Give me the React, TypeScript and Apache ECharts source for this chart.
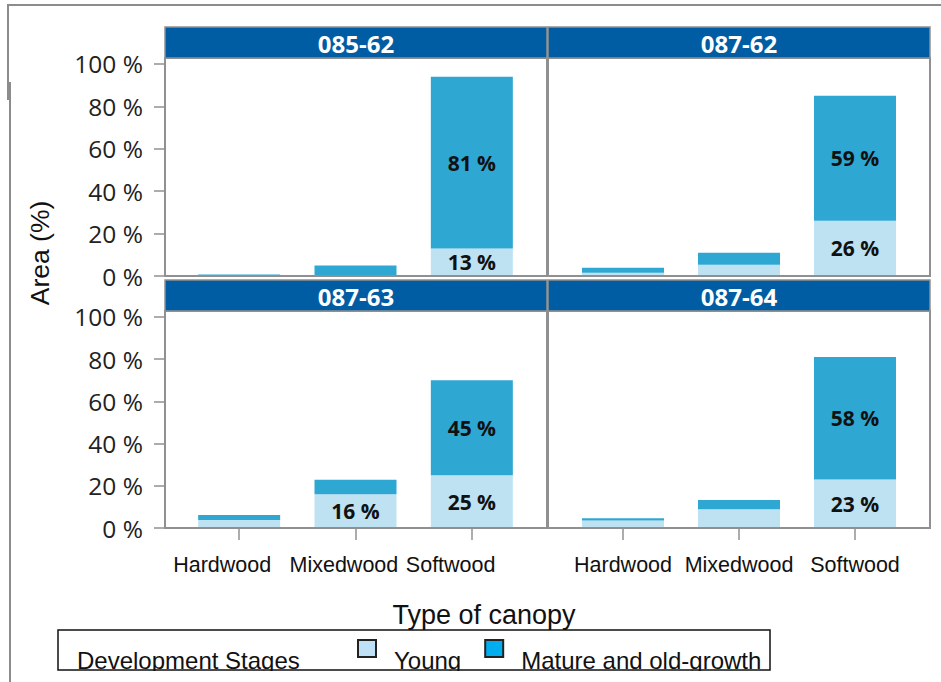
import React, { useEffect, useRef } from 'react';
import * as echarts from 'echarts';

const categories = ['Hardwood', 'Mixedwood', 'Softwood'];
const panels = ['085-62', '087-62', '087-63', '087-64'];
const stages = ['Young', 'Mature and old-growth'];

const young_085_62 = [0.2, 0, 13];
const mature_085_62 = [0.5, 5, 81];
const young_087_62 = [1.5, 5.3, 26];
const mature_087_62 = [2.4, 5.7, 59];
const young_087_63 = [3.8, 16, 25];
const mature_087_63 = [2.4, 6.8, 45];
const young_087_64 = [3.5, 8.9, 23];
const mature_087_64 = [1.1, 4.4, 58];

const youngByPanel = [young_085_62, young_087_62, young_087_63, young_087_64];
const matureByPanel = [mature_085_62, mature_087_62, mature_087_63, mature_087_64];

const yTicks = [0, 20, 40, 60, 80, 100];

const YOUNG_COLOR = '#BEE2F2';
const MATURE_COLOR = '#2FA7D3';
const BORDER = '#909090';
const HEADER = '#005DA3';

// panel frames (layout)
const panelBoxes = [
  { x: 165, y: 58, w: 382, h: 218 },
  { x: 548, y: 58, w: 382, h: 218 },
  { x: 165, y: 311, w: 382, h: 217 },
  { x: 548, y: 311, w: 382, h: 217 },
];
// plotting bands inside each panel
const gridBoxes = [
  { left: 181, top: 58, width: 349, height: 218 },
  { left: 565, top: 58, width: 348, height: 218 },
  { left: 181, top: 311, width: 349, height: 217 },
  { left: 565, top: 311, width: 348, height: 217 },
];

export default function App() {
  const ref = useRef<HTMLDivElement>(null);
  useEffect(() => {
    if (!ref.current) return;
    const chart = echarts.init(ref.current, undefined, { renderer: 'svg' });

    const grid = gridBoxes.map((g) => ({ ...g, containLabel: false }));
    const sans = '"Liberation Sans", Arial, sans-serif';

    const xAxis = gridBoxes.map((_, i) => {
      const bottom = i >= 2;
      const shifted = i === 2;
      return {
        type: 'category',
        gridIndex: i,
        data: categories,
        boundaryGap: true,
        splitLine: { show: false },
        axisLine: { show: false },
        axisTick: {
          show: bottom,
          alignWithLabel: true,
          length: 12,
          lineStyle: { color: BORDER, width: 1.5 },
        },
        axisLabel: {
          show: bottom,
          interval: 0,
          hideOverlap: false,
          margin: 26,
          fontFamily: sans,
          fontSize: 21.5,
          color: '#111',
          formatter: shifted ? (v: string) => `{l|${v}}` : (v: string) => v,
          rich: {
            l: {
              width: 132,
              align: 'left',
              fontFamily: sans,
              fontSize: 21.5,
              color: '#111',
            },
          },
        },
      };
    });

    const yAxis = gridBoxes.map((_, i) => {
      const left = i % 2 === 0;
      return {
        type: 'value',
        gridIndex: i,
        min: 0,
        max: 102.8,
        offset: left ? 16 : 0,
        splitLine: { show: false },
        axisLine: { show: false },
        axisTick: {
          show: left,
          customValues: yTicks,
          length: 11,
          lineStyle: { color: BORDER, width: 1.5 },
        },
        axisLabel: {
          show: left,
          customValues: yTicks,
          formatter: (v: number) => `${v} %`,
          margin: 22,
          fontFamily: '"Open Sans", sans-serif',
          fontSize: 24.5,
          color: '#222',
        },
      };
    });

    const labelCfg = {
      show: true,
      position: 'inside',
      formatter: (p: any) => {
        const v = Array.isArray(p.value) ? p.value[1] : p.value;
        return v >= 10 ? `${Math.round(v)} %` : '';
      },
      fontFamily: '"Open Sans", sans-serif',
      fontWeight: 'bold',
      fontSize: 21,
      color: '#111',
    };

    const series: any[] = [];
    panels.forEach((_, i) => {
      series.push({
        name: stages[0],
        type: 'bar',
        xAxisIndex: i,
        yAxisIndex: i,
        stack: 'p' + i,
        barWidth: 82,
        itemStyle: { color: YOUNG_COLOR },
        label: labelCfg,
        data: youngByPanel[i],
      });
      series.push({
        name: stages[1],
        type: 'bar',
        xAxisIndex: i,
        yAxisIndex: i,
        stack: 'p' + i,
        barWidth: 82,
        itemStyle: { color: MATURE_COLOR },
        label: labelCfg,
        data: matureByPanel[i],
      });
    });

    const frames: any[] = [];
    panels.forEach((name, i) => {
      const p = panelBoxes[i];
      frames.push({
        type: 'rect',
        shape: { x: p.x, y: p.y, width: p.w, height: p.h },
        style: { fill: 'none', stroke: BORDER, lineWidth: 2 },
        z: 5,
      });
      const top = p.y - 31;
      frames.push({
        type: 'rect',
        shape: { x: p.x, y: top, width: p.w, height: 31 },
        style: { fill: HEADER, stroke: BORDER, lineWidth: 1.5 },
        z: 10,
      });
      frames.push({
        type: 'text',
        x: p.x + p.w / 2,
        y: top + 16,
        style: {
          text: name,
          align: 'center',
          verticalAlign: 'middle',
          fill: '#fff',
          fontFamily: '"Open Sans", sans-serif',
          fontWeight: 'bold',
          fontSize: 24,
        },
        z: 11,
      });
    });

    chart.setOption({
      animation: false,
      backgroundColor: '#fff',
      grid,
      xAxis,
      yAxis,
      series,
      legend: {
        left: 357,
        top: 624.5,
        padding: 0,
        icon: 'rect',
        itemWidth: 18,
        itemHeight: 17,
        itemGap: 23,
        selectedMode: false,
        formatter: (name: string) => '\n' + name,
        textStyle: {
          fontFamily: sans,
          fontSize: 24,
          lineHeight: 24,
          color: '#111',
          padding: [0, 0, 0, 13],
        },
        data: [
          { name: stages[0], itemStyle: { color: '#BFE1F7', borderColor: '#222', borderWidth: 2 } },
          { name: stages[1], itemStyle: { color: '#00AEEF', borderColor: '#222', borderWidth: 2 } },
        ],
      },
      graphic: [
        ...frames,
        {
          type: 'rect',
          shape: { x: 7, y: 4, width: 934, height: 2 },
          style: { fill: '#8c8c8c' },
        },
        {
          type: 'rect',
          shape: { x: 7, y: 4, width: 2, height: 96 },
          style: { fill: '#8c8c8c' },
        },
        {
          type: 'rect',
          shape: { x: 9, y: 82, width: 2, height: 600 },
          style: { fill: '#8c8c8c' },
        },
        {
          type: 'text',
          x: 40,
          y: 253,
          rotation: Math.PI / 2,
          style: {
            text: 'Area (%)',
            align: 'center',
            verticalAlign: 'middle',
            fill: '#111',
            fontFamily: sans,
            fontSize: 26.5,
          },
        },
        {
          type: 'text',
          x: 484,
          y: 615,
          style: {
            text: 'Type of canopy',
            align: 'center',
            verticalAlign: 'middle',
            fill: '#111',
            fontFamily: sans,
            fontSize: 27,
          },
        },
        {
          type: 'text',
          x: 77,
          y: 660,
          style: {
            text: 'Development Stages',
            align: 'left',
            verticalAlign: 'middle',
            fill: '#111',
            fontFamily: sans,
            fontSize: 24,
          },
        },
        {
          type: 'rect',
          shape: { x: 40, y: 671, width: 760, height: 11 },
          style: { fill: '#fff' },
          z: 100,
        },
        {
          type: 'rect',
          shape: { x: 58, y: 630, width: 712, height: 40 },
          style: { fill: 'none', stroke: '#111', lineWidth: 1.5 },
          z: 101,
        },
      ],
    });

    return () => chart.dispose();
  }, []);

  return (
    <div
      ref={ref}
      style={{ position: 'fixed', left: 0, top: 0, width: 941, height: 682 }}
    />
  );
}
